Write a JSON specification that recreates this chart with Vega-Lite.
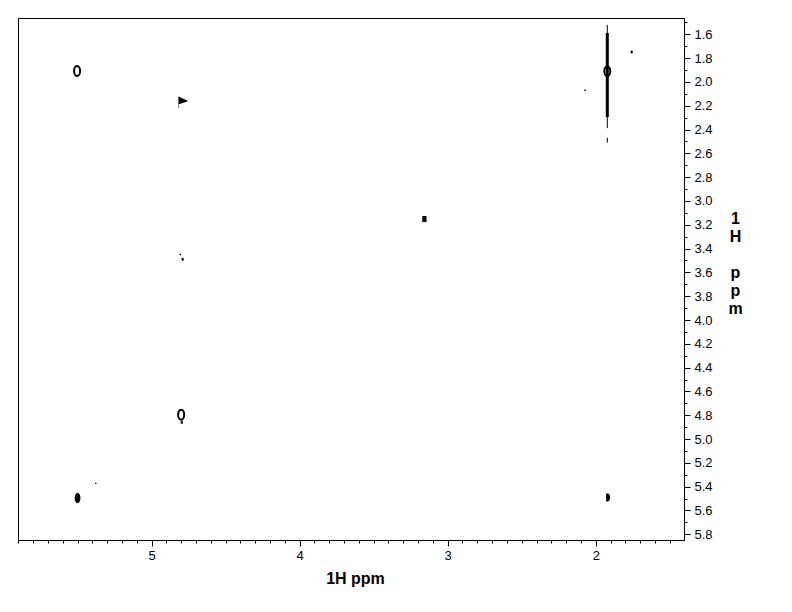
{
  "$schema": "https://vega.github.io/schema/vega-lite/v6.json",
  "autosize": {"type": "none"},
  "padding": {"left": 18, "top": 18, "right": 108, "bottom": 72},
  "width": 666,
  "height": 522,
  "background": "white",
  "config": {
    "view": {"stroke": "black", "strokeWidth": 1},
    "axis": {
      "domainColor": "black", "tickColor": "black", "labelColor": "black",
      "labelFont": "Liberation Sans", "labelFontSize": 13,
      "titleFont": "Liberation Sans", "titleFontSize": 16, "titleFontWeight": "bold", "titleColor": "black",
      "grid": false
    }
  },
  "datasets": {
    "outline": [
      {"x": 5.503, "y": 1.908},
      {"x": 4.800, "y": 4.795},
      {"x": 1.922, "y": 1.91}
    ],
    "blobBig": [
      {"x": 5.500, "y": 5.495}
    ],
    "blobSmall": [
      {"x": 1.919, "y": 5.49}
    ],
    "tri": [
      {"x": 4.785, "y": 2.16}
    ],
    "square": [
      {"x": 3.157, "y": 3.152}
    ],
    "dots": [
      {"x": 1.757, "y": 1.749},
      {"x": 4.790, "y": 3.49},
      {"x": 4.796, "y": 4.86}
    ],
    "tiny": [
      {"x": 2.072, "y": 2.07},
      {"x": 4.806, "y": 3.45},
      {"x": 5.377, "y": 5.372}
    ],
    "thick": [
      {"x": 1.922, "y": 1.589, "y2": 2.295}
    ],
    "thin": [
      {"x": 1.922, "y": 1.522, "y2": 2.388},
      {"x": 1.922, "y": 2.47, "y2": 2.51}
    ]
  },
  "layer": [
    {
      "data": {"name": "thin"},
      "mark": {"type": "rule", "color": "black", "strokeWidth": 1},
      "encoding": {
        "x": {"field": "x", "type": "quantitative",
          "scale": {"domain": [5.902, 1.404], "nice": false, "zero": false},
          "axis": {
            "orient": "bottom", "title": "1H ppm", "titlePadding": 8,
            "titleX": 337, "titleAlign": "center",
            "tickCount": 200,
            "values": [5.9,5.8,5.7,5.6,5.5,5.4,5.3,5.2,5.1,5.0,4.9,4.8,4.7,4.6,4.5,4.4,4.3,4.2,4.1,4.0,3.9,3.8,3.7,3.6,3.5,3.4,3.3,3.2,3.1,3.0,2.9,2.8,2.7,2.6,2.5,2.4,2.3,2.2,2.1,2.0,1.9,1.8,1.7,1.6,1.5],
            "labelExpr": "abs(datum.value - round(datum.value)) < 0.01 ? format(datum.value, 'd') : ''",
            "tickSize": {"condition": {"test": "abs(datum.value - round(datum.value)) < 0.01", "value": 6}, "value": 3},
            "labelPadding": 3, "labelFlush": false, "labelOverlap": false
          }},
        "y": {"field": "y", "type": "quantitative",
          "scale": {"domain": [1.463, 5.848], "nice": false, "zero": false, "reverse": true},
          "axis": {
            "orient": "right", "title": ["1", "H", "\u2800", "p", "p", "m"],
            "titleAngle": 0, "titleAlign": "center", "titleBaseline": "top",
            "titleX": 51, "titleY": 192, "titleLineHeight": 18,
            "tickCount": 200,
            "values": [1.5,1.6,1.7,1.8,1.9,2.0,2.1,2.2,2.3,2.4,2.5,2.6,2.7,2.8,2.9,3.0,3.1,3.2,3.3,3.4,3.5,3.6,3.7,3.8,3.9,4.0,4.1,4.2,4.3,4.4,4.5,4.6,4.7,4.8,4.9,5.0,5.1,5.2,5.3,5.4,5.5,5.6,5.7,5.8],
            "labelExpr": "abs(datum.value * 5 - round(datum.value * 5)) < 0.01 ? format(datum.value, '.1f') : ''",
            "tickSize": {"condition": {"test": "abs(datum.value * 5 - round(datum.value * 5)) < 0.01", "value": 6}, "value": 3},
            "labelPadding": 4, "labelFlush": false, "labelOverlap": false
          }},
        "y2": {"field": "y2"}
      }
    },
    {
      "data": {"name": "thick"},
      "mark": {"type": "rule", "color": "black", "strokeWidth": 3},
      "encoding": {
        "x": {"field": "x", "type": "quantitative"},
        "y": {"field": "y", "type": "quantitative"},
        "y2": {"field": "y2"}
      }
    },
    {
      "data": {"name": "outline"},
      "mark": {"type": "point", "filled": false, "color": "black", "strokeWidth": 2, "opacity": 1,
        "shape": "M0,-1A0.6,1,0,1,1,0,1A0.6,1,0,1,1,0,-1Z", "size": 100},
      "encoding": {
        "x": {"field": "x", "type": "quantitative"},
        "y": {"field": "y", "type": "quantitative"}
      }
    },
    {
      "data": {"name": "blobBig"},
      "mark": {"type": "point", "filled": true, "color": "black", "opacity": 1,
        "shape": "M0,-1A0.55,1,0,1,1,0,1A0.55,1,0,1,1,0,-1Z", "size": 110},
      "encoding": {
        "x": {"field": "x", "type": "quantitative"},
        "y": {"field": "y", "type": "quantitative"}
      }
    },
    {
      "data": {"name": "blobSmall"},
      "mark": {"type": "point", "filled": true, "color": "black", "opacity": 1,
        "shape": "M-0.4,-1L0,-1A0.6,1,0,1,1,0,1L-0.4,1Z", "size": 64},
      "encoding": {
        "x": {"field": "x", "type": "quantitative"},
        "y": {"field": "y", "type": "quantitative"}
      }
    },
    {
      "data": {"name": "tri"},
      "mark": {"type": "point", "filled": true, "color": "black", "opacity": 1,
        "shape": "M-1,-0.9L1,0L-1,0.7L-0.8,1.3L-1,1.3Z", "size": 100},
      "encoding": {
        "x": {"field": "x", "type": "quantitative"},
        "y": {"field": "y", "type": "quantitative"}
      }
    },
    {
      "data": {"name": "square"},
      "mark": {"type": "point", "filled": true, "color": "black", "opacity": 1,
        "shape": "M-0.7,-1L0.7,-1L0.7,1L-0.7,1Z", "size": 36},
      "encoding": {
        "x": {"field": "x", "type": "quantitative"},
        "y": {"field": "y", "type": "quantitative"}
      }
    },
    {
      "data": {"name": "dots"},
      "mark": {"type": "point", "filled": true, "color": "black", "opacity": 1,
        "shape": "M-0.7,-1L0.7,-1L0.7,1L-0.7,1Z", "size": 8},
      "encoding": {
        "x": {"field": "x", "type": "quantitative"},
        "y": {"field": "y", "type": "quantitative"}
      }
    },
    {
      "data": {"name": "tiny"},
      "mark": {"type": "point", "filled": true, "color": "black", "opacity": 1,
        "shape": "square", "size": 2},
      "encoding": {
        "x": {"field": "x", "type": "quantitative"},
        "y": {"field": "y", "type": "quantitative"}
      }
    }
  ]
}
